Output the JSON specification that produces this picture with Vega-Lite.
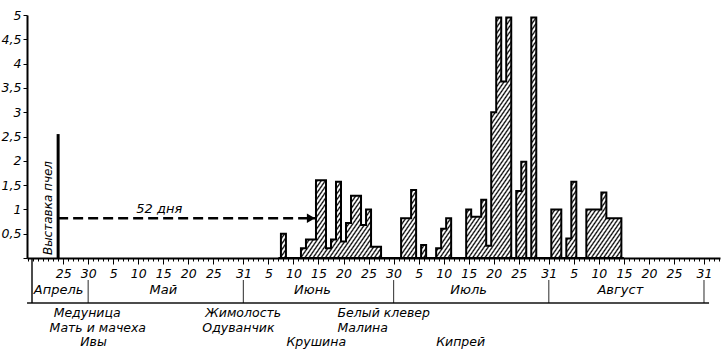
{
  "$schema": "https://vega.github.io/schema/vega-lite/v6.json",
  "width": 693,
  "height": 243,
  "autosize": {"type": "none"},
  "padding": {"left": 27, "top": 15, "right": 2, "bottom": 96},
  "background": "white",
  "config": {
    "view": {"stroke": null},
    "axis": {"labelOverlap": false, "labelFlush": false, "labelBound": false}
  },
  "datasets": {
    "honey": [
      {"day": 68, "value": 0}, {"day": 69, "value": 0.5}, {"day": 70, "value": 0}, {"day": 71, "value": 0},
      {"day": 72, "value": 0}, {"day": 73, "value": 0.2}, {"day": 74, "value": 0.38}, {"day": 75, "value": 0.38},
      {"day": 76, "value": 1.6}, {"day": 77, "value": 1.6}, {"day": 78, "value": 0.2}, {"day": 79, "value": 0.38},
      {"day": 80, "value": 1.57}, {"day": 81, "value": 0.34}, {"day": 82, "value": 0.72}, {"day": 83, "value": 1.28},
      {"day": 84, "value": 1.28}, {"day": 85, "value": 0.68}, {"day": 86, "value": 1.0}, {"day": 87, "value": 0.23},
      {"day": 88, "value": 0.23}, {"day": 89, "value": 0}, {"day": 90, "value": 0}, {"day": 91, "value": 0},
      {"day": 92, "value": 0}, {"day": 93, "value": 0.82}, {"day": 94, "value": 0.82}, {"day": 95, "value": 1.4},
      {"day": 96, "value": 0}, {"day": 97, "value": 0.27}, {"day": 98, "value": 0}, {"day": 99, "value": 0},
      {"day": 100, "value": 0.2}, {"day": 101, "value": 0.6}, {"day": 102, "value": 0.82}, {"day": 103, "value": 0},
      {"day": 104, "value": 0}, {"day": 105, "value": 0}, {"day": 106, "value": 1.0}, {"day": 107, "value": 0.85},
      {"day": 108, "value": 0.85}, {"day": 109, "value": 1.2}, {"day": 110, "value": 0.25}, {"day": 111, "value": 3.0},
      {"day": 112, "value": 4.95}, {"day": 113, "value": 3.63}, {"day": 114, "value": 4.95}, {"day": 115, "value": 0},
      {"day": 116, "value": 1.38}, {"day": 117, "value": 1.98}, {"day": 118, "value": 0}, {"day": 119, "value": 4.95},
      {"day": 120, "value": 0}, {"day": 121, "value": 0}, {"day": 122, "value": 0}, {"day": 123, "value": 1.0},
      {"day": 124, "value": 1.0}, {"day": 125, "value": 0}, {"day": 126, "value": 0.4}, {"day": 127, "value": 1.57},
      {"day": 128, "value": 0}, {"day": 129, "value": 0}, {"day": 130, "value": 1.0}, {"day": 131, "value": 1.0},
      {"day": 132, "value": 1.0}, {"day": 133, "value": 1.35}, {"day": 134, "value": 0.82}, {"day": 135, "value": 0.82},
      {"day": 136, "value": 0.82}, {"day": 137, "value": 0}
    ],
    "months": [
      {"month": "Апрель", "mid": 24.1, "end": 30},
      {"month": "Май", "mid": 45, "end": 61},
      {"month": "Июнь", "mid": 74.8, "end": 91},
      {"month": "Июль", "mid": 106, "end": 122},
      {"month": "Август", "mid": 136.3, "end": 153}
    ],
    "plants": [
      {"plant": "Медуница", "day": 23.1, "line": 1},
      {"plant": "Мать и мачеха", "day": 22.3, "line": 2},
      {"plant": "Ивы", "day": 28.4, "line": 3},
      {"plant": "Жимолость", "day": 53.4, "line": 1},
      {"plant": "Одуванчик", "day": 52.8, "line": 2},
      {"plant": "Крушина", "day": 69.6, "line": 3},
      {"plant": "Белый клевер", "day": 79.8, "line": 1},
      {"plant": "Малина", "day": 79.8, "line": 2},
      {"plant": "Кипрей", "day": 99.5, "line": 3}
    ],
    "bees": [
      {"label": "Выставка пчел", "day": 24, "height": 2.55, "arrowEnd": 75.3, "gap": "52 дня"}
    ]
  },
  "layer": [
    {
      "data": {"name": "honey"},
      "mark": {
        "type": "area",
        "interpolate": "step",
        "stroke": "black",
        "strokeWidth": 2,
        "strokeJoin": "miter",
        "fillOpacity": 1,
        "fill": {
          "gradient": "linear",
          "x1": 0, "y1": 0, "x2": 1.2028, "y2": 0.5782,
          "stops": [
{"offset":0,"color":"#000"},{"offset":0.003,"color":"#fff"},{"offset":0.005,"color":"#fff"},
{"offset":0.008,"color":"#000"},{"offset":0.011,"color":"#fff"},{"offset":0.013,"color":"#fff"},
{"offset":0.016,"color":"#000"},{"offset":0.019,"color":"#fff"},{"offset":0.021,"color":"#fff"},
{"offset":0.024,"color":"#000"},{"offset":0.027,"color":"#fff"},{"offset":0.029,"color":"#fff"},
{"offset":0.032,"color":"#000"},{"offset":0.035,"color":"#fff"},{"offset":0.037,"color":"#fff"},
{"offset":0.04,"color":"#000"},{"offset":0.043,"color":"#fff"},{"offset":0.045,"color":"#fff"},
{"offset":0.048,"color":"#000"},{"offset":0.051,"color":"#fff"},{"offset":0.053,"color":"#fff"},
{"offset":0.056,"color":"#000"},{"offset":0.059,"color":"#fff"},{"offset":0.061,"color":"#fff"},
{"offset":0.064,"color":"#000"},{"offset":0.067,"color":"#fff"},{"offset":0.069,"color":"#fff"},
{"offset":0.072,"color":"#000"},{"offset":0.075,"color":"#fff"},{"offset":0.077,"color":"#fff"},
{"offset":0.08,"color":"#000"},{"offset":0.083,"color":"#fff"},{"offset":0.085,"color":"#fff"},
{"offset":0.088,"color":"#000"},{"offset":0.091,"color":"#fff"},{"offset":0.093,"color":"#fff"},
{"offset":0.096,"color":"#000"},{"offset":0.099,"color":"#fff"},{"offset":0.101,"color":"#fff"},
{"offset":0.104,"color":"#000"},{"offset":0.107,"color":"#fff"},{"offset":0.109,"color":"#fff"},
{"offset":0.112,"color":"#000"},{"offset":0.115,"color":"#fff"},{"offset":0.117,"color":"#fff"},
{"offset":0.12,"color":"#000"},{"offset":0.123,"color":"#fff"},{"offset":0.125,"color":"#fff"},
{"offset":0.128,"color":"#000"},{"offset":0.131,"color":"#fff"},{"offset":0.133,"color":"#fff"},
{"offset":0.136,"color":"#000"},{"offset":0.139,"color":"#fff"},{"offset":0.141,"color":"#fff"},
{"offset":0.144,"color":"#000"},{"offset":0.147,"color":"#fff"},{"offset":0.149,"color":"#fff"},
{"offset":0.152,"color":"#000"},{"offset":0.155,"color":"#fff"},{"offset":0.157,"color":"#fff"},
{"offset":0.16,"color":"#000"},{"offset":0.163,"color":"#fff"},{"offset":0.165,"color":"#fff"},
{"offset":0.168,"color":"#000"},{"offset":0.171,"color":"#fff"},{"offset":0.173,"color":"#fff"},
{"offset":0.176,"color":"#000"},{"offset":0.179,"color":"#fff"},{"offset":0.181,"color":"#fff"},
{"offset":0.184,"color":"#000"},{"offset":0.187,"color":"#fff"},{"offset":0.189,"color":"#fff"},
{"offset":0.192,"color":"#000"},{"offset":0.195,"color":"#fff"},{"offset":0.197,"color":"#fff"},
{"offset":0.2,"color":"#000"},{"offset":0.203,"color":"#fff"},{"offset":0.205,"color":"#fff"},
{"offset":0.208,"color":"#000"},{"offset":0.211,"color":"#fff"},{"offset":0.213,"color":"#fff"},
{"offset":0.216,"color":"#000"},{"offset":0.219,"color":"#fff"},{"offset":0.221,"color":"#fff"},
{"offset":0.224,"color":"#000"},{"offset":0.227,"color":"#fff"},{"offset":0.229,"color":"#fff"},
{"offset":0.232,"color":"#000"},{"offset":0.235,"color":"#fff"},{"offset":0.237,"color":"#fff"},
{"offset":0.24,"color":"#000"},{"offset":0.243,"color":"#fff"},{"offset":0.245,"color":"#fff"},
{"offset":0.248,"color":"#000"},{"offset":0.251,"color":"#fff"},{"offset":0.253,"color":"#fff"},
{"offset":0.256,"color":"#000"},{"offset":0.259,"color":"#fff"},{"offset":0.261,"color":"#fff"},
{"offset":0.264,"color":"#000"},{"offset":0.267,"color":"#fff"},{"offset":0.269,"color":"#fff"},
{"offset":0.272,"color":"#000"},{"offset":0.275,"color":"#fff"},{"offset":0.277,"color":"#fff"},
{"offset":0.28,"color":"#000"},{"offset":0.283,"color":"#fff"},{"offset":0.285,"color":"#fff"},
{"offset":0.288,"color":"#000"},{"offset":0.291,"color":"#fff"},{"offset":0.293,"color":"#fff"},
{"offset":0.296,"color":"#000"},{"offset":0.299,"color":"#fff"},{"offset":0.301,"color":"#fff"},
{"offset":0.304,"color":"#000"},{"offset":0.307,"color":"#fff"},{"offset":0.309,"color":"#fff"},
{"offset":0.312,"color":"#000"},{"offset":0.315,"color":"#fff"},{"offset":0.317,"color":"#fff"},
{"offset":0.32,"color":"#000"},{"offset":0.323,"color":"#fff"},{"offset":0.325,"color":"#fff"},
{"offset":0.328,"color":"#000"},{"offset":0.331,"color":"#fff"},{"offset":0.333,"color":"#fff"},
{"offset":0.336,"color":"#000"},{"offset":0.339,"color":"#fff"},{"offset":0.341,"color":"#fff"},
{"offset":0.344,"color":"#000"},{"offset":0.347,"color":"#fff"},{"offset":0.349,"color":"#fff"},
{"offset":0.352,"color":"#000"},{"offset":0.355,"color":"#fff"},{"offset":0.357,"color":"#fff"},
{"offset":0.36,"color":"#000"},{"offset":0.363,"color":"#fff"},{"offset":0.365,"color":"#fff"},
{"offset":0.368,"color":"#000"},{"offset":0.371,"color":"#fff"},{"offset":0.373,"color":"#fff"},
{"offset":0.376,"color":"#000"},{"offset":0.379,"color":"#fff"},{"offset":0.381,"color":"#fff"},
{"offset":0.384,"color":"#000"},{"offset":0.387,"color":"#fff"},{"offset":0.389,"color":"#fff"},
{"offset":0.392,"color":"#000"},{"offset":0.395,"color":"#fff"},{"offset":0.397,"color":"#fff"},
{"offset":0.4,"color":"#000"},{"offset":0.403,"color":"#fff"},{"offset":0.405,"color":"#fff"},
{"offset":0.408,"color":"#000"},{"offset":0.411,"color":"#fff"},{"offset":0.413,"color":"#fff"},
{"offset":0.416,"color":"#000"},{"offset":0.419,"color":"#fff"},{"offset":0.421,"color":"#fff"},
{"offset":0.424,"color":"#000"},{"offset":0.427,"color":"#fff"},{"offset":0.429,"color":"#fff"},
{"offset":0.432,"color":"#000"},{"offset":0.435,"color":"#fff"},{"offset":0.437,"color":"#fff"},
{"offset":0.44,"color":"#000"},{"offset":0.443,"color":"#fff"},{"offset":0.445,"color":"#fff"},
{"offset":0.448,"color":"#000"},{"offset":0.451,"color":"#fff"},{"offset":0.453,"color":"#fff"},
{"offset":0.456,"color":"#000"},{"offset":0.459,"color":"#fff"},{"offset":0.461,"color":"#fff"},
{"offset":0.464,"color":"#000"},{"offset":0.467,"color":"#fff"},{"offset":0.469,"color":"#fff"},
{"offset":0.472,"color":"#000"},{"offset":0.475,"color":"#fff"},{"offset":0.477,"color":"#fff"},
{"offset":0.48,"color":"#000"},{"offset":0.483,"color":"#fff"},{"offset":0.485,"color":"#fff"},
{"offset":0.488,"color":"#000"},{"offset":0.491,"color":"#fff"},{"offset":0.493,"color":"#fff"},
{"offset":0.496,"color":"#000"},{"offset":0.499,"color":"#fff"},{"offset":0.501,"color":"#fff"},
{"offset":0.504,"color":"#000"},{"offset":0.507,"color":"#fff"},{"offset":0.509,"color":"#fff"},
{"offset":0.512,"color":"#000"},{"offset":0.515,"color":"#fff"},{"offset":0.517,"color":"#fff"},
{"offset":0.52,"color":"#000"},{"offset":0.523,"color":"#fff"},{"offset":0.525,"color":"#fff"},
{"offset":0.528,"color":"#000"},{"offset":0.531,"color":"#fff"},{"offset":0.533,"color":"#fff"},
{"offset":0.536,"color":"#000"},{"offset":0.539,"color":"#fff"},{"offset":0.541,"color":"#fff"},
{"offset":0.544,"color":"#000"},{"offset":0.547,"color":"#fff"},{"offset":0.549,"color":"#fff"},
{"offset":0.552,"color":"#000"},{"offset":0.555,"color":"#fff"},{"offset":0.557,"color":"#fff"},
{"offset":0.56,"color":"#000"},{"offset":0.563,"color":"#fff"},{"offset":0.565,"color":"#fff"},
{"offset":0.568,"color":"#000"},{"offset":0.571,"color":"#fff"},{"offset":0.573,"color":"#fff"},
{"offset":0.576,"color":"#000"},{"offset":0.579,"color":"#fff"},{"offset":0.581,"color":"#fff"},
{"offset":0.584,"color":"#000"},{"offset":0.587,"color":"#fff"},{"offset":0.589,"color":"#fff"},
{"offset":0.592,"color":"#000"},{"offset":0.595,"color":"#fff"},{"offset":0.597,"color":"#fff"},
{"offset":0.6,"color":"#000"},{"offset":0.603,"color":"#fff"},{"offset":0.605,"color":"#fff"},
{"offset":0.608,"color":"#000"},{"offset":0.611,"color":"#fff"},{"offset":0.613,"color":"#fff"},
{"offset":0.616,"color":"#000"},{"offset":0.619,"color":"#fff"},{"offset":0.621,"color":"#fff"},
{"offset":0.624,"color":"#000"},{"offset":0.627,"color":"#fff"},{"offset":0.629,"color":"#fff"},
{"offset":0.632,"color":"#000"},{"offset":0.635,"color":"#fff"},{"offset":0.637,"color":"#fff"},
{"offset":0.64,"color":"#000"},{"offset":0.643,"color":"#fff"},{"offset":0.645,"color":"#fff"},
{"offset":0.648,"color":"#000"},{"offset":0.651,"color":"#fff"},{"offset":0.653,"color":"#fff"},
{"offset":0.656,"color":"#000"},{"offset":0.659,"color":"#fff"},{"offset":0.661,"color":"#fff"},
{"offset":0.664,"color":"#000"},{"offset":0.667,"color":"#fff"},{"offset":0.669,"color":"#fff"},
{"offset":0.672,"color":"#000"},{"offset":0.675,"color":"#fff"},{"offset":0.677,"color":"#fff"},
{"offset":0.68,"color":"#000"},{"offset":0.683,"color":"#fff"},{"offset":0.685,"color":"#fff"},
{"offset":0.688,"color":"#000"},{"offset":0.691,"color":"#fff"},{"offset":0.693,"color":"#fff"},
{"offset":0.696,"color":"#000"},{"offset":0.699,"color":"#fff"},{"offset":0.701,"color":"#fff"},
{"offset":0.704,"color":"#000"},{"offset":0.707,"color":"#fff"},{"offset":0.709,"color":"#fff"},
{"offset":0.712,"color":"#000"},{"offset":0.715,"color":"#fff"},{"offset":0.717,"color":"#fff"},
{"offset":0.72,"color":"#000"},{"offset":0.723,"color":"#fff"},{"offset":0.725,"color":"#fff"},
{"offset":0.728,"color":"#000"},{"offset":0.731,"color":"#fff"},{"offset":0.733,"color":"#fff"},
{"offset":0.736,"color":"#000"},{"offset":0.739,"color":"#fff"},{"offset":0.741,"color":"#fff"},
{"offset":0.744,"color":"#000"},{"offset":0.747,"color":"#fff"},{"offset":0.749,"color":"#fff"},
{"offset":0.752,"color":"#000"},{"offset":0.755,"color":"#fff"},{"offset":0.757,"color":"#fff"},
{"offset":0.76,"color":"#000"},{"offset":0.763,"color":"#fff"},{"offset":0.765,"color":"#fff"},
{"offset":0.768,"color":"#000"},{"offset":0.771,"color":"#fff"},{"offset":0.773,"color":"#fff"},
{"offset":0.776,"color":"#000"},{"offset":0.779,"color":"#fff"},{"offset":0.781,"color":"#fff"},
{"offset":0.784,"color":"#000"},{"offset":0.787,"color":"#fff"},{"offset":0.789,"color":"#fff"},
{"offset":0.792,"color":"#000"},{"offset":0.795,"color":"#fff"},{"offset":0.797,"color":"#fff"},
{"offset":0.8,"color":"#000"},{"offset":0.803,"color":"#fff"},{"offset":0.805,"color":"#fff"},
{"offset":0.808,"color":"#000"},{"offset":0.811,"color":"#fff"},{"offset":0.813,"color":"#fff"},
{"offset":0.816,"color":"#000"},{"offset":0.819,"color":"#fff"},{"offset":0.821,"color":"#fff"},
{"offset":0.824,"color":"#000"},{"offset":0.827,"color":"#fff"},{"offset":0.829,"color":"#fff"},
{"offset":0.832,"color":"#000"},{"offset":0.835,"color":"#fff"},{"offset":0.837,"color":"#fff"},
{"offset":0.84,"color":"#000"},{"offset":0.843,"color":"#fff"},{"offset":0.845,"color":"#fff"},
{"offset":0.848,"color":"#000"},{"offset":0.851,"color":"#fff"},{"offset":0.853,"color":"#fff"},
{"offset":0.856,"color":"#000"},{"offset":0.859,"color":"#fff"},{"offset":0.861,"color":"#fff"},
{"offset":0.864,"color":"#000"},{"offset":0.867,"color":"#fff"},{"offset":0.869,"color":"#fff"},
{"offset":0.872,"color":"#000"},{"offset":0.875,"color":"#fff"},{"offset":0.877,"color":"#fff"},
{"offset":0.88,"color":"#000"},{"offset":0.883,"color":"#fff"},{"offset":0.885,"color":"#fff"},
{"offset":0.888,"color":"#000"},{"offset":0.891,"color":"#fff"},{"offset":0.893,"color":"#fff"},
{"offset":0.896,"color":"#000"},{"offset":0.899,"color":"#fff"},{"offset":0.901,"color":"#fff"},
{"offset":0.904,"color":"#000"},{"offset":0.907,"color":"#fff"},{"offset":0.909,"color":"#fff"},
{"offset":0.912,"color":"#000"},{"offset":0.915,"color":"#fff"},{"offset":0.917,"color":"#fff"},
{"offset":0.92,"color":"#000"},{"offset":0.923,"color":"#fff"},{"offset":0.925,"color":"#fff"},
{"offset":0.928,"color":"#000"},{"offset":0.931,"color":"#fff"},{"offset":0.933,"color":"#fff"},
{"offset":0.936,"color":"#000"},{"offset":0.939,"color":"#fff"},{"offset":0.941,"color":"#fff"},
{"offset":0.944,"color":"#000"},{"offset":0.947,"color":"#fff"},{"offset":0.949,"color":"#fff"},
{"offset":0.952,"color":"#000"},{"offset":0.955,"color":"#fff"},{"offset":0.957,"color":"#fff"},
{"offset":0.96,"color":"#000"},{"offset":0.963,"color":"#fff"},{"offset":0.965,"color":"#fff"},
{"offset":0.968,"color":"#000"},{"offset":0.971,"color":"#fff"},{"offset":0.973,"color":"#fff"},
{"offset":0.976,"color":"#000"},{"offset":0.979,"color":"#fff"},{"offset":0.981,"color":"#fff"},
{"offset":0.984,"color":"#000"},{"offset":0.987,"color":"#fff"},{"offset":0.989,"color":"#fff"},
{"offset":0.992,"color":"#000"},{"offset":0.995,"color":"#fff"},{"offset":0.997,"color":"#fff"},
{"offset":1,"color":"#000"}
          ]
        }
      },
      "encoding": {
        "x": {
          "field": "day", "type": "quantitative",
          "scale": {"domain": [18.78, 155.2], "nice": false, "zero": false},
          "axis": {
            "title": null, "orient": "bottom", "grid": false, "tickCount": 137,
            "labelExpr": "indexof([25,30,35,40,45,50,55,61,66,71,76,81,86,91,96,101,106,111,116,122,127,132,137,142,147,153], datum.value) >= 0 ? '' + (datum.value <= 30 ? datum.value : datum.value <= 61 ? datum.value - 30 : datum.value <= 91 ? datum.value - 61 : datum.value <= 122 ? datum.value - 91 : datum.value - 122) : ''",
            "labelOverlap": false, "labelFlush": false, "labelBound": false,
            "domainColor": "black", "domainWidth": 2,
            "tickColor": "black", "tickWidth": 1,
            "tickSize": {"condition": {"test": "indexof([25,30,35,40,45,50,55,61,66,71,76,81,86,91,96,101,106,111,116,122,127,132,137,142,147,153], datum.value) >= 0", "value": 6}, "value": 3},
            "labelFont": "DejaVu Sans", "labelFontStyle": "italic", "labelFontSize": 12.5,
            "labelColor": "black", "labelPadding": 3
          }
        },
        "y": {
          "field": "value", "type": "quantitative",
          "scale": {"domain": [0, 5], "nice": false},
          "axis": {
            "title": null, "grid": false,
            "tickCount": 10,
            "labelExpr": "datum.value == 0 ? '' : replace(format(datum.value, '.1~f'), '.', ',')",
            "labelOverlap": false, "labelFlush": false, "labelBound": false,
            "domainColor": "black", "domainWidth": 2,
            "tickColor": "black", "tickSize": 4,
            "labelFont": "DejaVu Sans", "labelFontStyle": "italic", "labelFontSize": 12.5,
            "labelColor": "black", "labelPadding": 2
          }
        }
      }
    },
    {
      "data": {"name": "bees"},
      "mark": {"type": "bar", "color": "black", "width": 3},
      "encoding": {
        "x": {"field": "day", "type": "quantitative", "title": null},
        "y": {"field": "height", "type": "quantitative", "title": null}
      }
    },
    {
      "data": {"name": "bees"},
      "mark": {"type": "text", "angle": 270, "align": "left", "baseline": "bottom", "dy": -3, "font": "DejaVu Sans", "fontStyle": "italic", "fontSize": 12, "color": "black"},
      "encoding": {
        "x": {"field": "day", "type": "quantitative", "title": null},
        "y": {"datum": 0.06, "type": "quantitative", "title": null},
        "text": {"field": "label"}
      }
    },
    {
      "data": {"name": "bees"},
      "mark": {"type": "rule", "color": "black", "strokeWidth": 2.5, "strokeDash": [10, 5]},
      "encoding": {
        "x": {"field": "day", "type": "quantitative", "title": null},
        "x2": {"field": "arrowEnd"},
        "y": {"datum": 0.82, "type": "quantitative", "title": null}
      }
    },
    {
      "data": {"name": "bees"},
      "mark": {"type": "point", "shape": "triangle-right", "filled": true, "size": 90, "color": "black", "opacity": 1, "xOffset": -4},
      "encoding": {
        "x": {"field": "arrowEnd", "type": "quantitative", "title": null},
        "y": {"datum": 0.82, "type": "quantitative", "title": null}
      }
    },
    {
      "data": {"name": "bees"},
      "mark": {"type": "text", "font": "DejaVu Sans", "fontStyle": "italic", "fontSize": 13, "color": "black", "baseline": "middle"},
      "encoding": {
        "x": {"datum": 44.2, "type": "quantitative", "title": null},
        "y": {"datum": 1.0, "type": "quantitative", "title": null},
        "text": {"field": "gap"}
      }
    },
    {
      "data": {"name": "bees"},
      "mark": {"type": "tick", "orient": "horizontal", "color": "black", "thickness": 2, "size": 682},
      "encoding": {
        "x": {"datum": 85.9, "type": "quantitative", "title": null},
        "y": {"datum": -0.926, "type": "quantitative", "title": null}
      }
    },
    {
      "data": {"name": "bees"},
      "mark": {"type": "tick", "orient": "vertical", "color": "black", "thickness": 2, "size": 45},
      "encoding": {
        "x": {"datum": 18.78, "type": "quantitative", "title": null},
        "y": {"datum": -0.463, "type": "quantitative", "title": null}
      }
    },
    {
      "data": {"name": "months"},
      "mark": {"type": "tick", "orient": "vertical", "color": "black", "thickness": 1.2, "size": 23},
      "encoding": {
        "x": {"field": "end", "type": "quantitative", "title": null},
        "y": {"datum": -0.69, "type": "quantitative", "title": null}
      }
    },
    {
      "data": {"name": "months"},
      "mark": {"type": "text", "font": "DejaVu Sans", "fontStyle": "italic", "fontSize": 13, "color": "black", "baseline": "middle", "align": "center"},
      "encoding": {
        "x": {"field": "mid", "type": "quantitative", "title": null},
        "y": {"datum": -0.658, "type": "quantitative", "title": null},
        "text": {"field": "month"}
      }
    },
    {
      "data": {"name": "plants"},
      "transform": [{"filter": "datum.line == 1"}],
      "mark": {"type": "text", "font": "DejaVu Sans", "fontStyle": "italic", "fontSize": 12.5, "color": "black", "baseline": "middle", "align": "left"},
      "encoding": {
        "x": {"field": "day", "type": "quantitative", "title": null},
        "y": {"datum": -1.132, "type": "quantitative", "title": null},
        "text": {"field": "plant"}
      }
    },
    {
      "data": {"name": "plants"},
      "transform": [{"filter": "datum.line == 2"}],
      "mark": {"type": "text", "font": "DejaVu Sans", "fontStyle": "italic", "fontSize": 12.5, "color": "black", "baseline": "middle", "align": "left"},
      "encoding": {
        "x": {"field": "day", "type": "quantitative", "title": null},
        "y": {"datum": -1.44, "type": "quantitative", "title": null},
        "text": {"field": "plant"}
      }
    },
    {
      "data": {"name": "plants"},
      "transform": [{"filter": "datum.line == 3"}],
      "mark": {"type": "text", "font": "DejaVu Sans", "fontStyle": "italic", "fontSize": 12.5, "color": "black", "baseline": "middle", "align": "left"},
      "encoding": {
        "x": {"field": "day", "type": "quantitative", "title": null},
        "y": {"datum": -1.728, "type": "quantitative", "title": null},
        "text": {"field": "plant"}
      }
    }
  ]
}
